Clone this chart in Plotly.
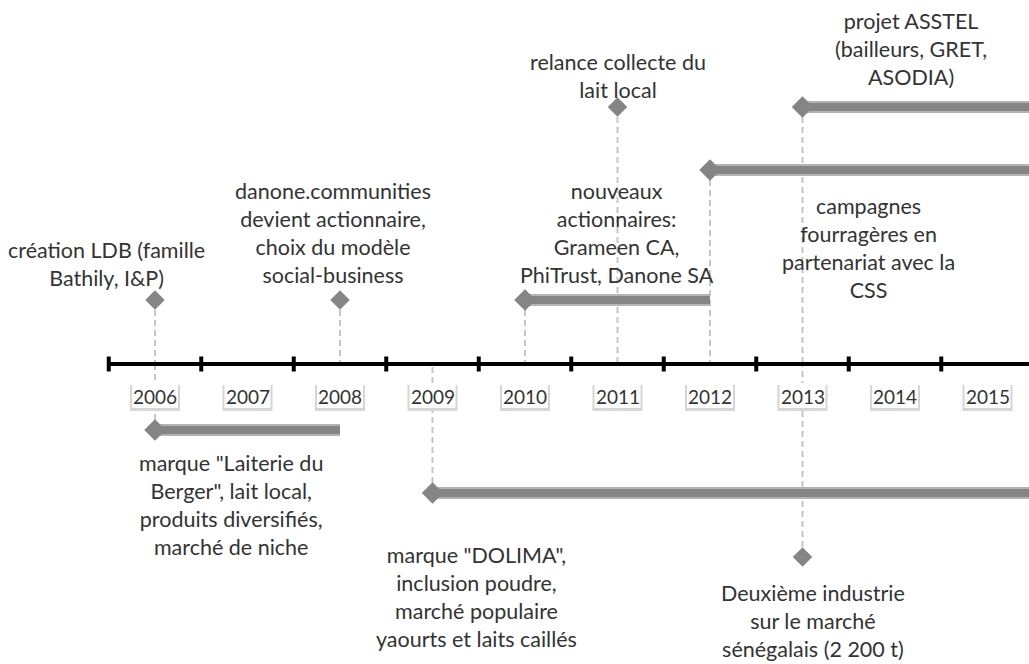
import plotly.graph_objects as go

# ---------------- data ----------------
years = [2006, 2007, 2008, 2009, 2010, 2011, 2012, 2013, 2014, 2015]
year_labels = ["2006", "2007", "2008", "2009", "2010", "2011", "2012", "2013", "2014", "2015"]

milestone_years = [2006, 2008, 2011, 2013]
milestone_labels = [
    "création LDB (famille<br>Bathily, I&P)",
    "danone.communities<br>devient actionnaire,<br>choix du modèle<br>social-business",
    "relance collecte du<br>lait local",
    "Deuxième industrie<br>sur le marché<br>sénégalais (2 200 t)",
]

period_starts = [2006, 2009, 2010, 2012, 2013]
period_ends = [2008, 2016, 2012, 2016, 2016]   # 2016 = still ongoing (runs off the chart)
period_labels = [
    "marque \"Laiterie du<br>Berger\", lait local,<br>produits diversifiés,<br>marché de niche",
    "marque \"DOLIMA\",<br>inclusion poudre,<br>marché populaire<br>yaourts et laits caillés",
    "nouveaux<br>actionnaires:<br>Grameen CA,<br>PhiTrust, Danone SA",
    "campagnes<br>fourragères en<br>partenariat avec la<br>CSS",
    "projet ASSTEL<br>(bailleurs, GRET,<br>ASODIA)",
]

# ---------------- layout (positions / styles) ----------------
W, H = 1029, 664
PX_PER_YEAR = 92.5
X0 = 2006 - 155 / PX_PER_YEAR
X1 = X0 + W / PX_PER_YEAR
AXIS_Y = 364

milestone_lane_y = [300, 300, 107, 557]
milestone_label_y = [264, 233, 76, 621]
milestone_label_dx = [-49, -7, 0, 10]

period_lane_y = [430, 493, 300, 170, 107]
period_label_y = [505, 597, 233, 248, 49]
period_label_dx = [76, 44, 92, 158, 108]

FONT = "Lato, 'Open Sans', sans-serif"
TXT = "#333333"
BAR = "#858585"
BAR_EDGE = "#b4b4b4"
DASH = "#c6c6c6"
FS = 21.5

fig = go.Figure()

# dashed links to the axis
link_x, link_y = [], []
for yr, ly in zip(milestone_years, milestone_lane_y):
    link_x += [yr, yr, None]
    link_y += [ly, AXIS_Y, None]
for yr, ly in zip(period_starts, period_lane_y):
    link_x += [yr, yr, None]
    link_y += [ly, AXIS_Y, None]
fig.add_trace(go.Scatter(x=link_x, y=link_y, mode="lines",
                         line=dict(color=DASH, width=2, dash="6px,4px"),
                         hoverinfo="skip", showlegend=False))

# period bars
for s, e, ly in zip(period_starts, period_ends, period_lane_y):
    fig.add_trace(go.Scatter(x=[s, e], y=[ly, ly], mode="lines",
                             line=dict(color=BAR_EDGE, width=12),
                             hoverinfo="skip", showlegend=False))
    fig.add_trace(go.Scatter(x=[s, e], y=[ly, ly], mode="lines",
                             line=dict(color=BAR, width=8),
                             hoverinfo="skip", showlegend=False))
fig.add_trace(go.Scatter(x=period_starts, y=period_lane_y, mode="markers",
                         marker=dict(symbol="diamond", size=16.5, color=BAR),
                         hoverinfo="skip", showlegend=False))

# milestone diamonds
fig.add_trace(go.Scatter(x=milestone_years, y=milestone_lane_y, mode="markers",
                         marker=dict(symbol="diamond", size=15, color=BAR),
                         hoverinfo="skip", showlegend=False))

# axis line and ticks
tick_pos = [y - 0.5 for y in years]
fig.add_trace(go.Scatter(x=[tick_pos[0], X1 + 1], y=[AXIS_Y, AXIS_Y], mode="lines",
                         line=dict(color="black", width=4),
                         hoverinfo="skip", showlegend=False))
tx, ty = [], []
for t in tick_pos:
    tx += [t, t, None]
    ty += [AXIS_Y - 7.5, AXIS_Y + 7.5, None]
fig.add_trace(go.Scatter(x=tx, y=ty, mode="lines",
                         line=dict(color="black", width=4),
                         hoverinfo="skip", showlegend=False))

# year label boxes (shadow + white box) and text
shapes = []
half = 23 / PX_PER_YEAR
pad = 2 / PX_PER_YEAR
for yr in years:
    shapes.append(dict(type="rect", xref="x", yref="y", layer="above",
                       x0=yr - half - pad, x1=yr + half + pad, y0=385, y1=411,
                       fillcolor="#d6d6d6", line=dict(width=0)))
    shapes.append(dict(type="rect", xref="x", yref="y", layer="above",
                       x0=yr - half, x1=yr + half, y0=383, y1=408,
                       fillcolor="white", line=dict(width=0)))

annotations = []
for yr, lab in zip(years, year_labels):
    annotations.append(dict(x=yr, y=396, xref="x", yref="y", text=lab,
                            showarrow=False, xanchor="center", yanchor="middle",
                            font=dict(family=FONT, size=19, color=TXT)))

for yr, lab, ly, dx in zip(milestone_years, milestone_labels, milestone_label_y, milestone_label_dx):
    annotations.append(dict(x=yr, y=ly, xref="x", yref="y", text=lab, xshift=dx,
                            showarrow=False, xanchor="center", yanchor="middle",
                            align="center",
                            font=dict(family=FONT, size=FS, color=TXT)))

for s, lab, ly, dx in zip(period_starts, period_labels, period_label_y, period_label_dx):
    annotations.append(dict(x=s, y=ly, xref="x", yref="y", text=lab, xshift=dx,
                            showarrow=False, xanchor="center", yanchor="middle",
                            align="center",
                            font=dict(family=FONT, size=FS, color=TXT)))

fig.update_layout(
    width=W, height=H,
    margin=dict(l=0, r=0, t=0, b=0),
    paper_bgcolor="white", plot_bgcolor="white",
    xaxis=dict(range=[X0, X1], visible=False, fixedrange=True),
    yaxis=dict(range=[H, 0], visible=False, fixedrange=True),
    shapes=shapes, annotations=annotations,
    showlegend=False,
)

fig.write_html("out.html", config={"displayModeBar": False},
               post_script="document.body.style.margin='0px';")
